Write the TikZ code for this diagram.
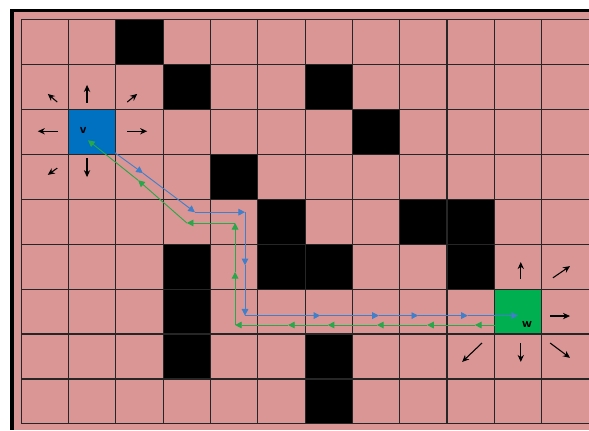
\documentclass[tikz,border=0pt]{standalone}
\usepackage{tikz}
\usetikzlibrary{arrows.meta, positioning, calc}
\definecolor{cellpink}{HTML}{DA9694}
\definecolor{startblue}{HTML}{0070C0}
\definecolor{goalgreen}{HTML}{00B050}
\definecolor{fwdblue}{HTML}{3F7FCB}
\definecolor{backgreen}{HTML}{27A84A}

\begin{document}
\begin{tikzpicture}[
        x=1cm, y=-0.9505cm,
        wall/.style={fill=black},
        gridline/.style={draw=black!85, line width=0.65pt},
        startcell/.style={
            rectangle, fill=startblue, inner sep=0pt,
            minimum width=1cm, minimum height=0.9505cm
        },
        goalcell/.style={
            rectangle, fill=goalgreen, inner sep=0pt,
            minimum width=1cm, minimum height=0.9505cm
        },
        celltag/.style={font=\sffamily\bfseries\footnotesize, inner sep=0pt},
        move/.style={-{Stealth[length=4.2pt, width=3.8pt]}, line width=0.65pt, black},
        fwd/.style={-{Triangle[length=4pt, width=4pt]}, line width=0.55pt, fwdblue},
        back/.style={-{Triangle[length=4pt, width=4pt]}, line width=0.55pt, backgreen},
    ]

    % Frame and background
    \useasboundingbox (-0.450, -0.429) rectangle (12.002, 9.135);
    \fill[cellpink] (-0.154, -0.162) rectangle (12.002, 9.135);
    \fill[black] (-0.239, -0.222) rectangle (12.002, -0.162);
    \fill[black] (-0.239, -0.222) rectangle (-0.154, 9.135);

    % ---- Walls ----
    \foreach \c/\r in {2/0, 3/1, 6/1, 7/2, 4/3, 5/4, 8/4, 9/4,
                       3/5, 5/5, 6/5, 9/5, 3/6, 3/7, 6/7, 6/8}
        \fill[wall] (\c, \r) rectangle ++(1, 1);

    % ---- Start and goal ----
    \node[startcell] (v) at (1.5, 2.5) {};
    \node[goalcell] (w) at (10.5, 6.5) {};

    % ---- Grid ----
    \foreach \c in {0,...,11}
        \draw[gridline] (\c, 0) -- (\c, 9);
    \foreach \r in {0,...,9}
        \draw[gridline] (0, \r) -- (12, \r);

    \node[celltag] (vtag) at (1.31, 2.47) {v};
    \node[celltag] (wtag) at (10.69, 6.78) {w};

    % ---- Moves around v ----
    \foreach \a/\b in {{1.39,1.86}/{1.39,1.46}, {0.76,1.84}/{0.56,1.66},
                       {2.24,1.84}/{2.45,1.66}, {0.78,2.49}/{0.35,2.49},
                       {2.24,2.49}/{2.66,2.49}, {0.76,3.31}/{0.56,3.46},
                       {1.39,3.09}/{1.39,3.51}}
        \draw[move] (\a) -- (\b);

    % ---- Moves around w ----
    \foreach \a/\b in {{10.56,5.78}/{10.56,5.40}, {11.24,5.75}/{11.60,5.49},
                       {11.18,6.60}/{11.60,6.60}, {10.56,7.20}/{10.56,7.62},
                       {11.18,7.20}/{11.60,7.53}, {9.74,7.20}/{9.32,7.62}}
        \draw[move] (\a) -- (\b);

    % ---- Forward path v -> w ----
    \coordinate (b0) at (1.98, 2.97);
    \coordinate (b1) at (2.57, 3.42);
    \coordinate (b2) at (3.67, 4.29);
    \coordinate (b3) at (4.73, 4.29);
    \coordinate (b4) at (4.73, 5.47);
    \coordinate (b5) at (4.73, 6.59);
    \coordinate (b6) at (6.32, 6.59);
    \coordinate (b7) at (7.56, 6.59);
    \coordinate (b8) at (8.39, 6.59);
    \coordinate (b9) at (9.44, 6.59);
    \coordinate (b10) at (10.50, 6.59);
    \foreach \a/\b in {b0/b1, b1/b2, b2/b3, b3/b4, b4/b5,
                       b5/b6, b6/b7, b7/b8, b8/b9, b9/b10}
        \draw[fwd] (\a) -- (\b);

    % ---- Backward path w -> v ----
    \coordinate (g0) at (10.01, 6.80);
    \coordinate (g1) at (9.59, 6.80);
    \coordinate (g2) at (8.58, 6.80);
    \coordinate (g3) at (7.52, 6.80);
    \coordinate (g4) at (6.48, 6.80);
    \coordinate (g5) at (5.64, 6.80);
    \coordinate (g6) at (4.52, 6.80);
    \coordinate (g7) at (4.52, 5.62);
    \coordinate (g8) at (4.52, 4.53);
    \coordinate (g9) at (3.50, 4.53);
    \coordinate (g10) at (2.47, 3.58);
    \coordinate (g11) at (1.41, 2.69);
    \foreach \a/\b in {g0/g1, g1/g2, g2/g3, g3/g4, g4/g5, g5/g6,
                       g6/g7, g7/g8, g8/g9, g9/g10, g10/g11}
        \draw[back] (\a) -- (\b);

\end{tikzpicture}
\end{document}
